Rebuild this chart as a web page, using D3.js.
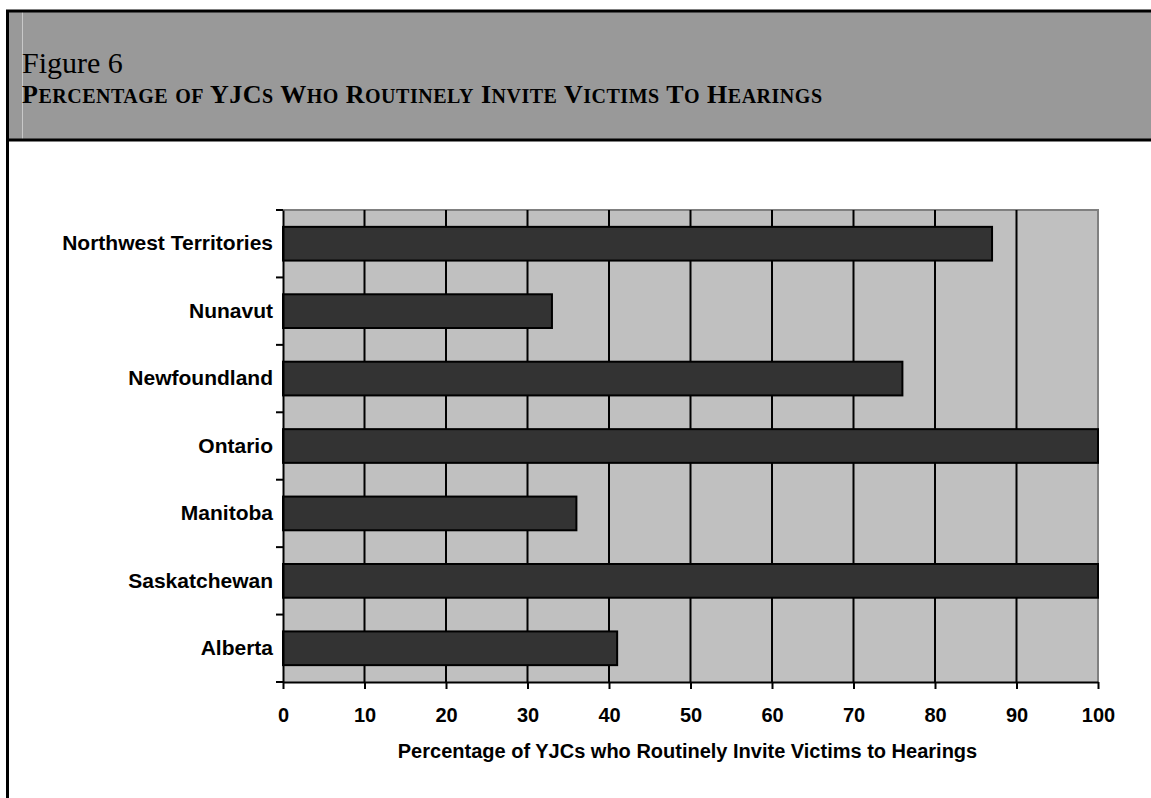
<!DOCTYPE html>
<html>
<head>
<meta charset="utf-8">
<script src="https://cdn.jsdelivr.net/npm/d3@7"></script>
<style>
  html, body { margin: 0; padding: 0; background: #fff; }
  svg { display: block; }
</style>
</head>
<body>
<svg id="chart" width="1151" height="798"></svg>
<script>
const categories = ["Northwest Territories", "Nunavut", "Newfoundland", "Ontario", "Manitoba", "Saskatchewan", "Alberta"];
const values = [87, 33, 76, 100, 36, 100, 41];
const xTicks = [0, 10, 20, 30, 40, 50, 60, 70, 80, 90, 100];
const figureLabel = "Figure 6";
const figureTitle = "Percentage of YJCs Who Routinely Invite Victims To Hearings";
const xAxisTitle = "Percentage of YJCs who Routinely Invite Victims to Hearings";

(function () {
const svg = d3.select("#chart");
const W = 1151, H = 798;

// Header box
svg.append("rect").attr("x", 8).attr("y", 11).attr("width", W).attr("height", 129)
  .attr("fill", "#999999");
svg.append("line").attr("x1", 22.5).attr("x2", 22.5).attr("y1", 12).attr("y2", 139)
  .attr("stroke", "#c8c8c8").attr("stroke-width", 1);
svg.append("line").attr("x1", 6).attr("x2", W).attr("y1", 11).attr("y2", 11)
  .attr("stroke", "#000").attr("stroke-width", 3);
svg.append("line").attr("x1", 6).attr("x2", W).attr("y1", 140).attr("y2", 140)
  .attr("stroke", "#000").attr("stroke-width", 3);
svg.append("line").attr("x1", 7.5).attr("x2", 7.5).attr("y1", 10).attr("y2", H)
  .attr("stroke", "#000").attr("stroke-width", 3);

svg.append("text").attr("x", 22).attr("y", 73)
  .attr("font-family", "Liberation Serif, Times New Roman, serif")
  .attr("font-size", 30).attr("fill", "#000").text(figureLabel);

// small-caps title built from tspans
const capSize = 26, smallSize = 20;
const title = svg.append("text").attr("x", 22).attr("y", 103)
  .attr("font-family", "Liberation Serif, Times New Roman, serif")
  .attr("font-weight", "bold").attr("fill", "#000")
  .attr("textLength", 800).attr("lengthAdjust", "spacing");
const runs = [];
for (const ch of figureTitle) {
  const isSmall = ch !== ch.toUpperCase();
  const last = runs[runs.length - 1];
  if (last && last.small === isSmall) last.t += ch;
  else runs.push({ small: isSmall, t: ch });
}
title.selectAll("tspan").data(runs).join("tspan")
  .attr("font-size", d => d.small ? smallSize : capSize)
  .text(d => d.t.toUpperCase());

// Plot
const pL = 283, pR = 1098, pT = 210, pB = 682;
const x = d3.scaleLinear().domain([0, 100]).range([pL, pR]);
const y = d3.scaleBand().domain(categories).range([pT, pB]).paddingInner(0.5).paddingOuter(0.25);

svg.append("rect").attr("x", pL).attr("y", pT).attr("width", pR - pL).attr("height", pB - pT)
  .attr("fill", "#c0c0c0");
svg.append("line").attr("x1", pL).attr("x2", pR + 1).attr("y1", pT).attr("y2", pT)
  .attr("stroke", "#808080").attr("stroke-width", 2);
svg.append("line").attr("x1", pR).attr("x2", pR).attr("y1", pT).attr("y2", pB)
  .attr("stroke", "#808080").attr("stroke-width", 2);

// gridlines
svg.append("g").selectAll("line").data(xTicks.filter(d => d > 0 && d < 100)).join("line")
  .attr("x1", d => x(d)).attr("x2", d => x(d)).attr("y1", pT).attr("y2", pB)
  .attr("stroke", "#000").attr("stroke-width", 2);

// bars
svg.append("g").selectAll("rect").data(categories).join("rect")
  .attr("x", x(0))
  .attr("y", d => y(d))
  .attr("width", (d, i) => x(values[i]) - x(0))
  .attr("height", y.bandwidth())
  .attr("fill", "#333333").attr("stroke", "#000").attr("stroke-width", 2);

// x axis
const xAxis = svg.append("g").attr("transform", `translate(0,${pB})`)
  .call(d3.axisBottom(x).tickValues(xTicks).tickSize(7).tickSizeOuter(0).tickPadding(19));
xAxis.select(".domain").attr("stroke", "#000").attr("stroke-width", 2);
xAxis.selectAll(".tick line").attr("stroke", "#000").attr("stroke-width", 2);
xAxis.selectAll(".tick text")
  .attr("font-family", "Liberation Sans, Arial, sans-serif")
  .attr("font-size", 20).attr("font-weight", "bold").attr("fill", "#000");

// y axis
const yAxis = svg.append("g").attr("transform", `translate(${pL},0)`)
  .call(d3.axisLeft(y).tickSize(0).tickPadding(10));
yAxis.select(".domain").attr("stroke", "#000").attr("stroke-width", 2);
yAxis.selectAll(".tick text")
  .attr("font-family", "Liberation Sans, Arial, sans-serif")
  .attr("font-size", 21).attr("font-weight", "bold").attr("fill", "#000");

// y tick marks at band boundaries
const bounds = d3.range(categories.length + 1).map(i => pT + i * y.step());
svg.append("g").selectAll("line").data(bounds).join("line")
  .attr("x1", pL - 7).attr("x2", pL).attr("y1", d => d).attr("y2", d => d)
  .attr("stroke", "#000").attr("stroke-width", 2);

// axis title
svg.append("text").attr("x", (pL + pR) / 2 - 3).attr("y", 758)
  .attr("text-anchor", "middle")
  .attr("font-family", "Liberation Sans, Arial, sans-serif")
  .attr("font-size", 20).attr("font-weight", "bold").attr("fill", "#000")
  .text(xAxisTitle);
})();
</script>
</body>
</html>
